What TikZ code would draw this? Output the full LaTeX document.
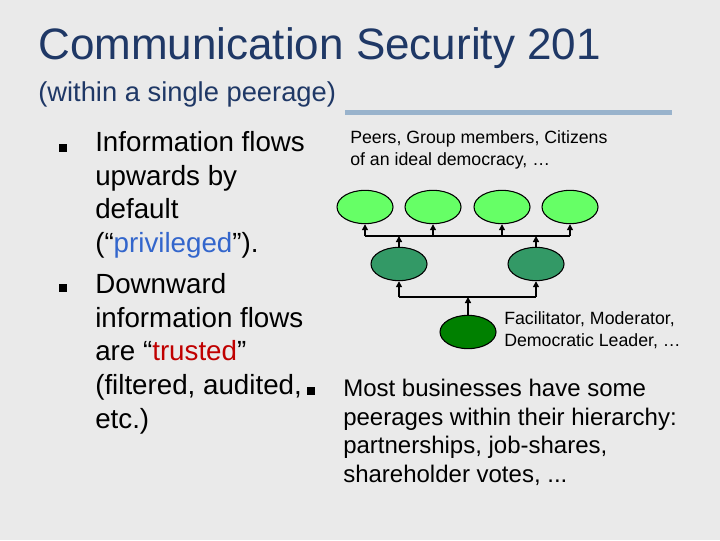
\documentclass[tikz,border=0pt]{standalone}
\usepackage{fontspec}
\setmainfont{Liberation Sans}
\usetikzlibrary{arrows.meta,shapes.geometric}
\begin{document}
\begin{tikzpicture}[x=0.75pt,y=-0.75pt,
  oval/.style={ellipse,draw=black,line width=0.8pt,minimum width=42pt,minimum height=25pt,inner sep=0pt},
  lg/.style={oval,fill=lgreen}, mg/.style={oval,fill=mgreen}, dg/.style={oval,fill=dgreen},
  con/.style={line width=1pt,-{Triangle[length=4.5pt,width=4.5pt]}},
  body/.style={anchor=north west,align=left,font=\fontsize{20.8}{25.3}\selectfont,inner sep=0pt},
  bodyb/.style={anchor=north west,align=left,font=\fontsize{18}{21.4}\selectfont,inner sep=0pt},
  small/.style={anchor=north west,align=left,font=\fontsize{13.3}{16.5}\selectfont,inner sep=0pt},
  bul/.style={fill=black,minimum size=6.5pt,inner sep=0pt}]
\definecolor{lgreen}{HTML}{66FF66}
\definecolor{mgreen}{HTML}{339966}
\definecolor{dgreen}{HTML}{008000}
\definecolor{bg}{HTML}{EAEAEA}
\definecolor{ttl}{HTML}{1F3866}
\definecolor{bar}{HTML}{99B3CC}
\definecolor{red1}{HTML}{C00000}
\definecolor{blue1}{HTML}{3366CC}
\fill[bg] (0,0) rectangle (720,540);
\useasboundingbox (0,0) rectangle (720,540);
\node[anchor=west,inner sep=0pt,text=ttl,font=\fontsize{33}{38}\selectfont] (title) at (38,48) {Communication Security 201};
\node[anchor=west,inner sep=0pt,text=ttl,font=\fontsize{20.5}{24}\selectfont] (sub) at (38,94) {(within a single peerage)};
\fill[bar] (345,110) rectangle (672,115);
\node[bul] (b1) at (63,148) {};
\node[bul] (b2) at (63,288) {};
\node[body] (t1) at (95,131) {Information flows\\upwards by\\default\\(“\textcolor{blue1}{privileged}”).};
\node[body] (t2) at (95,273) {Downward\\information flows\\are “\textcolor{red1}{trusted}”\\(filtered, audited,\\etc.)};
\node[bul] (b3) at (311,391) {};
\node[bodyb] (t3) at (343,379) {Most businesses have some\\peerages within their hierarchy:\\partnerships, job-shares,\\shareholder votes, ...};
\node[small] (p) at (350,130) {Peers, Group members, Citizens\\of an ideal democracy, …};
\node[small] (f) at (504,311) {Facilitator, Moderator,\\Democratic Leader, …};
\node[lg] (a1) at (365,207) {};
\node[lg] (a2) at (433,207) {};
\node[lg] (a3) at (502,207) {};
\node[lg] (a4) at (570,207) {};
\node[mg] (m1) at (399,264) {};
\node[mg] (m2) at (536,264) {};
\node[dg] (d) at (468,332) {};
\coordinate (u1) at (365,236); \coordinate (u4) at (570,236);
\coordinate (l1) at (399,297); \coordinate (l2) at (536,297);
\draw[line width=1pt] (u1) -- (u4);
\draw[line width=1pt] (l1) -- (l2);
\foreach \n in {a1,a2,a3,a4} \draw[con] (\n |- u1) -- (\n);
\draw[con] (m1) -- (m1 |- u1);
\draw[con] (m2) -- (m2 |- u1);
\draw[con] (l1) -- (m1);
\draw[con] (l2) -- (m2);
\draw[con] (d) -- (d |- l1);
\end{tikzpicture}
\end{document}
